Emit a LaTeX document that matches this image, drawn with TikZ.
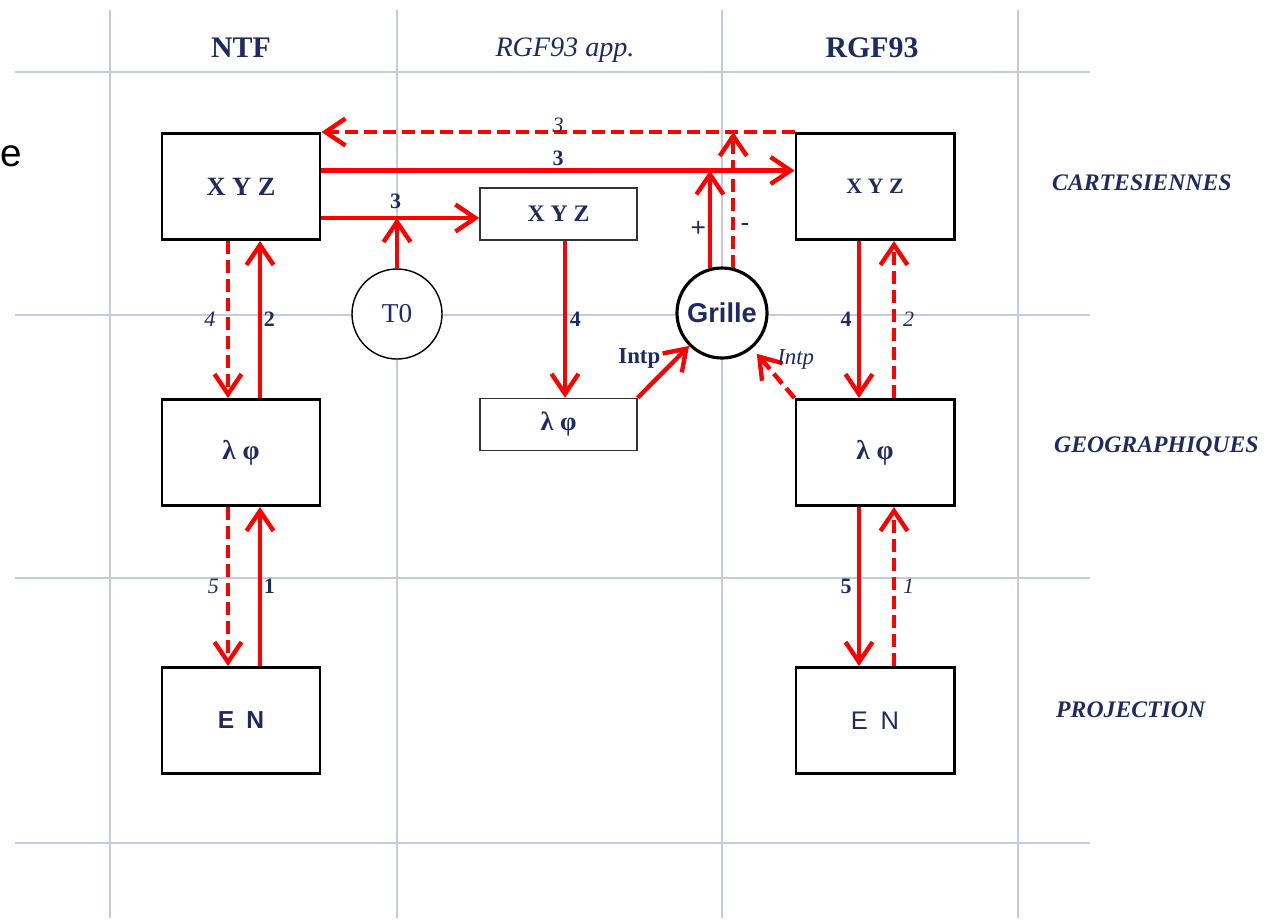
\documentclass[tikz,border=0pt]{standalone}
\usepackage{fontspec}
\setmainfont{Liberation Serif}
\setsansfont{Liberation Sans}
\usetikzlibrary{arrows.meta,positioning,calc}
\definecolor{navy}{HTML}{1F2A62}
\definecolor{gridline}{HTML}{C5CADC}
\definecolor{flux}{HTML}{FF0000}
\newcommand{\fsz}[1]{\fontsize{#1pt}{#1pt}\selectfont}

\begin{document}
\begin{tikzpicture}[
    x=0.2mm,y=-0.2mm,
    bigbox/.style={draw=black,line width=1.7pt,fill=white,minimum width=31.6mm,minimum height=21.2mm,inner sep=0pt,text=navy},
    appbox/.style={draw=black!80,line width=0.8pt,fill=white,minimum width=31.4mm,minimum height=10.4mm,inner sep=0pt,text=navy},
    rond/.style={circle,draw=black,fill=white,minimum size=18mm,inner sep=0pt,text=navy},
    hdr/.style={font=\fsz{17}\bfseries,text=navy},
    rowlbl/.style={anchor=west,font=\fsz{13.5}\bfseries\itshape,text=navy},
    lbl/.style={font=\fsz{12.5}\bfseries,text=navy},
    ilbl/.style={font=\fsz{12.5}\itshape,text=navy},
    gridl/.style={draw=gridline,line width=0.8pt},
    arr/.style={flux,line width=2.5pt,-{Straight Barb[length=4mm,width=5.4mm]}},
    darr/.style={arr,dash pattern=on 2.6mm off 1.2mm}
  ]
    \useasboundingbox (0,0) rectangle (1270,920);
    % grid
    \foreach \gx in {110,397,722,1018}
      \draw[gridl] (\gx,10) -- (\gx,918);
    \foreach \gy in {72,315,578,843}
      \draw[gridl] (15,\gy) -- (1090,\gy);

    \node[font=\sffamily\fsz{22},anchor=west,inner sep=0pt] (bord) at (0,156) {e};

    % column and row titles
    \node[hdr] (hntf) at (241,48) {NTF};
    \node[hdr,font=\fsz{16}\itshape] (happ) at (565,50) {RGF93 app.};
    \node[hdr] (hrgf) at (872,48) {RGF93};
    \node[rowlbl] (rcart) at (1046,183) {CARTESIENNES};
    \node[rowlbl] (rgeo) at (1048,447) {GEOGRAPHIQUES};
    \node[rowlbl] (rproj) at (1050,710) {PROJECTION};

    % boxes
    \node[bigbox,font=\fsz{15}\bfseries] (ntfxyz) at (241,186.5) {X Y Z};
    \node[bigbox,font=\fsz{15.5}\bfseries,below=31.4mm of ntfxyz] (ntfgeo) {λ φ};
    \node[bigbox,font=\sffamily\fsz{14}\bfseries,below=31.8mm of ntfgeo] (ntfen) {E\enspace N};
    \node[bigbox,font=\fsz{12.5}\bfseries,right=94.6mm of ntfxyz] (rgfxyz) {X Y Z};
    \node[bigbox,font=\fsz{15.5}\bfseries,below=31.4mm of rgfxyz] (rgfgeo) {λ φ};
    \node[bigbox,font=\sffamily\fsz{14.5},below=31.8mm of rgfgeo] (rgfen) {E\enspace N};
    \node[appbox,font=\fsz{13.5}\bfseries] (appxyz) at (558.5,214) {X Y Z};
    \node[appbox,font=\fsz{15}\bfseries,below=31.4mm of appxyz] (appgeo) {λ φ};
    \node[rond,line width=0.8pt,font=\fsz{15.5}] (t0) at (397,314) {T0};
    \node[rond,line width=1.8pt,font=\sffamily\bfseries\fsz{15.5}] (grille) at (722,313) {Grille};

    % cartesian links
    \draw[darr] (rgfxyz.north west) -- node[ilbl,yshift=3.6pt]{3} (ntfxyz.north east);
    \draw[arr] ($(ntfxyz.east)+(0,-16)$) coordinate (a2) -- node[lbl,above,inner sep=1.2pt]{3} (a2 -| rgfxyz.west);
    \draw[arr] ($(ntfxyz.east)+(0,31.5)$) coordinate (a3) -- node[lbl,above,inner sep=4pt,pos=0.47]{3} (a3 -| appxyz.west);
    \draw[arr] (t0) -- (t0 |- a3);
    \draw[arr] ($(appxyz.south)+(6.5,0)$) -- node[lbl,right,inner sep=1.5pt]{4} ($(appgeo.north)+(6.5,0)$);
    \draw[arr] (appgeo.north east) -- node[lbl,font=\fsz{13}\bfseries,above left,inner sep=0.5pt]{Intp} (grille.225);
    \draw[arr] (grille.105) -- node[font=\sffamily\fsz{15},text=navy,left,inner sep=1pt,pos=0.4]{+} (grille.105 |- a2);
    \draw[darr] (grille.76) -- node[font=\sffamily\fsz{15},text=navy,right,inner sep=3pt,pos=0.3]{-} (grille.76 |- rgfxyz.north west);
    \draw[darr,shorten >=1.4mm] (rgfgeo.north west) -- node[ilbl,font=\fsz{13}\itshape,above right,inner sep=1pt]{Intp} (grille);

    % NTF column
    \draw[darr] ($(ntfxyz.south)+(-13,0)$) -- node[ilbl,left,inner sep=6pt]{4} ($(ntfgeo.north)+(-13,0)$);
    \draw[arr] ($(ntfgeo.north)+(19,0)$) -- node[lbl,right,inner sep=1pt]{2} ($(ntfxyz.south)+(19,0)$);
    \draw[darr] ($(ntfgeo.south)+(-13,0)$) -- node[ilbl,left,inner sep=4pt]{5} ($(ntfen.north)+(-13,0)$);
    \draw[arr] ($(ntfen.north)+(19,0)$) -- node[lbl,right,inner sep=1pt]{1} ($(ntfgeo.south)+(19,0)$);

    % RGF93 column
    \draw[arr] ($(rgfxyz.south)+(-16,0)$) -- node[lbl,left,inner sep=3pt]{4} ($(rgfgeo.north)+(-16,0)$);
    \draw[darr] ($(rgfgeo.north)+(19,0)$) -- node[ilbl,right,inner sep=4pt]{2} ($(rgfxyz.south)+(19,0)$);
    \draw[arr] ($(rgfgeo.south)+(-16,0)$) -- node[lbl,left,inner sep=3pt]{5} ($(rgfen.north)+(-16,0)$);
    \draw[darr] ($(rgfen.north)+(19,0)$) -- node[ilbl,right,inner sep=4pt]{1} ($(rgfgeo.south)+(19,0)$);
\end{tikzpicture}
\end{document}
